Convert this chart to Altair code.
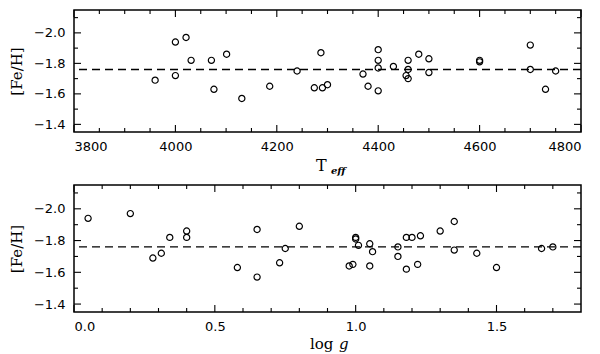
import altair as alt
import pandas as pd

# ---- data ----
teff = [3960, 4000, 4000, 4021, 4031, 4071, 4076, 4101, 4131, 4186, 4240,
        4274, 4287, 4290, 4300, 4370, 4380, 4400, 4400, 4400, 4400, 4430,
        4455, 4459, 4459, 4459, 4480, 4500, 4500, 4600, 4600, 4700, 4700, 4730, 4750]
feh_teff = [-1.69, -1.94, -1.72, -1.97, -1.82, -1.82, -1.63, -1.86, -1.57, -1.65, -1.75,
            -1.64, -1.87, -1.64, -1.66, -1.73, -1.65, -1.89, -1.82, -1.77, -1.62, -1.78,
            -1.72, -1.82, -1.76, -1.70, -1.86, -1.83, -1.74, -1.82, -1.81, -1.92, -1.76, -1.63, -1.75]

logg = [0.05, 0.20, 0.28, 0.31, 0.34, 0.40, 0.40, 0.58, 0.65, 0.65, 0.73, 0.75, 0.80,
        0.977, 0.99, 1.00, 1.00, 1.01, 1.05, 1.05, 1.06, 1.15, 1.15, 1.18, 1.18, 1.20,
        1.22, 1.23, 1.30, 1.35, 1.35, 1.43, 1.50, 1.66, 1.70]
feh_logg = [-1.94, -1.97, -1.69, -1.72, -1.82, -1.86, -1.82, -1.63, -1.87, -1.57, -1.66, -1.75, -1.89,
            -1.64, -1.65, -1.82, -1.81, -1.77, -1.78, -1.64, -1.73, -1.76, -1.70, -1.82, -1.62, -1.82,
            -1.65, -1.83, -1.86, -1.92, -1.74, -1.72, -1.63, -1.75, -1.76]

mean_feh = [-1.76]

# tick values
y_major = [-2.0, -1.8, -1.6, -1.4]
y_minor = [-2.1, -1.9, -1.7, -1.5]
teff_major = [3800, 4000, 4200, 4400, 4600, 4800]
teff_minor = [3850, 3900, 3950, 4050, 4100, 4150, 4250, 4300, 4350,
              4450, 4500, 4550, 4650, 4700, 4750]
logg_major = [0.0, 0.5, 1.0, 1.5]
logg_minor = [0.1, 0.2, 0.3, 0.4, 0.6, 0.7, 0.8, 0.9, 1.1, 1.2, 1.3, 1.4, 1.6, 1.7]

W = 507
H_TOP = 122
H_BOT = 127
MAJ = 7
MIN = 4


def panel(xvals, yvals, xdomain, xmajor, xminor, xfmt, H, title_layers):
    xs = alt.Scale(domain=xdomain, nice=False, zero=False)
    ys = alt.Scale(domain=[-2.15, -1.35], reverse=True, nice=False, zero=False)
    xaxis = alt.Axis(values=xmajor, format=xfmt, title="", ticks=False, domain=False,
                     grid=False, labelPadding=8)
    yaxis = alt.Axis(values=y_major, format=".1f", title="[Fe/H]", ticks=False,
                     domain=False, grid=False, labelPadding=9, titlePadding=9)
    X = lambda: alt.X("x:Q", scale=xs, axis=xaxis)
    Y = lambda: alt.Y("y:Q", scale=ys, axis=yaxis)

    pts = pd.DataFrame({"x": xvals, "y": yvals})
    points = alt.Chart(pts).mark_point(
        shape="circle", filled=False, color="black", size=38, strokeWidth=1.2, opacity=1
    ).encode(x=X(), y=Y())

    mean = alt.Chart(pd.DataFrame({"y": mean_feh})).mark_rule(
        color="black", strokeDash=[8, 5], strokeWidth=1.3
    ).encode(y=Y())

    layers = [points, mean]

    def xticks(vals, L):
        d = pd.DataFrame({"x": vals})
        top = alt.Chart(d).mark_rule(color="black", strokeWidth=1.1).encode(
            x=X(), y=alt.value(0), y2=alt.value(L))
        bot = alt.Chart(d).mark_rule(color="black", strokeWidth=1.1).encode(
            x=X(), y=alt.value(H), y2=alt.value(H - L))
        return [top, bot]

    def yticks(vals, L):
        d = pd.DataFrame({"y": vals})
        left = alt.Chart(d).mark_rule(color="black", strokeWidth=1.1).encode(
            y=Y(), x=alt.value(0), x2=alt.value(L))
        right = alt.Chart(d).mark_rule(color="black", strokeWidth=1.1).encode(
            y=Y(), x=alt.value(W), x2=alt.value(W - L))
        return [left, right]

    layers += xticks(xmajor, MAJ) + xticks(xminor, MIN)
    layers += yticks(y_major, MAJ) + yticks(y_minor, MIN)
    layers += title_layers
    return alt.layer(*layers).properties(width=W, height=H)


def text_layer(txt, x, y, font, size, style="normal", weight="normal"):
    return alt.Chart(pd.DataFrame({"t": [txt]})).mark_text(
        align="left", baseline="alphabetic", font=font, fontSize=size,
        fontStyle=style, fontWeight=weight, color="black"
    ).encode(x=alt.value(x), y=alt.value(y), text="t:N")


top_titles = [
    text_layer("T", 242, 161, "DejaVu Serif", 16),
    text_layer("eff", 257, 164, "DejaVu Serif", 10, style="italic", weight="bold"),
]
bot_titles = [
    text_layer("log", 236, 164, "DejaVu Serif", 15),
    text_layer("g", 265, 164, "DejaVu Serif", 15, style="italic"),
]

top = panel(teff, feh_teff, [3800, 4800], teff_major, teff_minor, "d", H_TOP, top_titles)
bot = panel(logg, feh_logg, [0, 1.8], logg_major, logg_minor, ".1f", H_BOT, bot_titles)

chart = alt.vconcat(top, bot, spacing=6).properties(padding=0).configure_view(
    stroke="black", strokeWidth=1.5
).configure_axis(
    labelFont="DejaVu Sans", labelFontSize=13, labelColor="black",
    titleFont="DejaVu Serif", titleFontSize=15, titleFontWeight="normal", titleColor="black"
)

chart.save("out.html", embed_options={"renderer": "svg", "actions": False})
